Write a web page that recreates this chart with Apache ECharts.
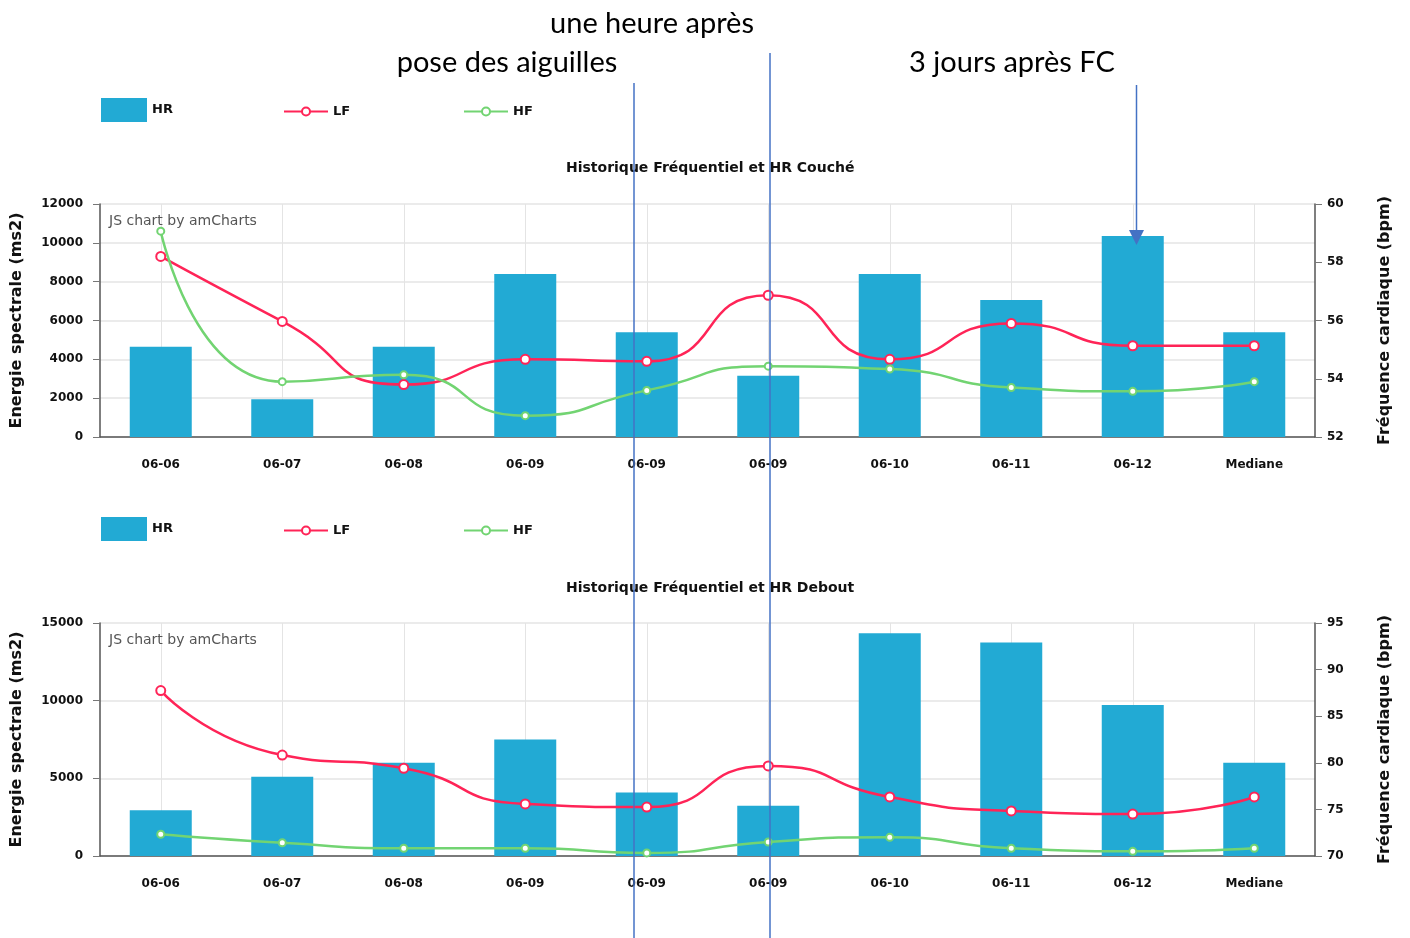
<!DOCTYPE html>
<html>
<head>
<meta charset="utf-8">
<script src="https://cdn.jsdelivr.net/npm/echarts@6/dist/echarts.min.js"></script>
<style>
html,body{margin:0;padding:0;background:#fff;}
#c{width:1410px;height:938px;}
</style>
</head>
<body>
<div id="c"></div>
<script>
// ---- data ----
const categories = ["06-06","06-07","06-08","06-09","06-09","06-09","06-10","06-11","06-12","Mediane"];
// Chart 1: Couché
const hrCouche = [55.1, 53.3, 55.1, 57.6, 55.6, 54.1, 57.6, 56.7, 58.9, 55.6];
const lfCouche = [9300, 5950, 2700, 4000, 3900, 7300, 4000, 5850, 4700, 4700];
const hfCouche = [10600, 2850, 3200, 1100, 2400, 3650, 3500, 2550, 2350, 2850];
// Chart 2: Debout
const hrDebout = [74.9, 78.5, 80.0, 82.5, 76.8, 75.4, 93.9, 92.9, 86.2, 80.0];
const lfDebout = [10650, 6500, 5650, 3350, 3150, 5800, 3800, 2900, 2700, 3800];
const hfDebout = [1400, 850, 500, 500, 200, 900, 1200, 500, 300, 500];
// axis ranges
const leftTicks1 = {min: 0, max: 12000, interval: 2000};
const rightTicks1 = {min: 52, max: 60, interval: 2};
const leftTicks2 = {min: 0, max: 15000, interval: 5000};
const rightTicks2 = {min: 70, max: 95, interval: 5};
const titles = ["Historique Fréquentiel et HR Couché", "Historique Fréquentiel et HR Debout"];

// ---- styles ----
const BAR = '#22aad4', LFC = '#ff2457', HFC = '#72d472';
const FONT = 'DejaVu Sans';
const ANN = '#4472c4';

function xAxis(gi){
  return {
    type: 'category', gridIndex: gi, data: categories,
    axisLine: {lineStyle: {color: '#555', width: 1.5}},
    axisTick: {alignWithLabel: true, length: 5, lineStyle: {color: '#777'}},
    axisLabel: {color: '#111', fontFamily: FONT, fontSize: 12, fontWeight: 'bold', margin: 22, interval: 0},
    splitLine: {show: true, alignWithLabel: true, lineStyle: {color: '#e4e4e4', width: 1}}
  };
}
function leftAxis(gi, t){
  return {
    type: 'value', gridIndex: gi, position: 'left', min: t.min, max: t.max, interval: t.interval,
    name: 'Energie spectrale (ms2)', nameLocation: 'middle', nameGap: 75,
    nameTextStyle: {fontFamily: FONT, fontSize: 16, fontWeight: 'bold', color: '#111'},
    axisLine: {show: true, lineStyle: {color: '#555', width: 1.5}},
    axisTick: {show: true, length: 7, lineStyle: {color: '#777'}},
    axisLabel: {color: '#111', fontFamily: FONT, fontSize: 12, fontWeight: 'bold', margin: 17,
      formatter: function(v){ return String(v); }},
    splitLine: {show: true, lineStyle: {color: '#e4e4e4', width: 1.5}}
  };
}
function rightAxis(gi, t){
  return {
    type: 'value', gridIndex: gi, position: 'right', min: t.min, max: t.max, interval: t.interval,
    name: 'Fréquence cardiaque (bpm)', nameLocation: 'middle', nameGap: 62, nameRotate: 90,
    nameTextStyle: {fontFamily: FONT, fontSize: 16, fontWeight: 'bold', color: '#111'},
    axisLine: {show: true, lineStyle: {color: '#555', width: 1.5}},
    axisTick: {show: true, length: 7, lineStyle: {color: '#777'}},
    axisLabel: {color: '#111', fontFamily: FONT, fontSize: 12, fontWeight: 'bold', margin: 12},
    splitLine: {show: false}
  };
}
function barSeries(gi, data){
  return {name: 'HR', type: 'bar', xAxisIndex: gi, yAxisIndex: gi*2+1, data: data,
    barWidth: 62, itemStyle: {color: BAR}, z: 2};
}
function lineSeries(name, gi, data, color, size){
  return {name: name, type: 'line', xAxisIndex: gi, yAxisIndex: gi*2, data: data,
    smooth: 0.6, symbol: 'circle', symbolSize: size, showSymbol: true,
    lineStyle: {color: color, width: 2.5}, itemStyle: {color: '#fff', borderColor: color, borderWidth: 2},
    z: 3};
}
function legends(top){
  const base = {top: top, padding: 0, itemGap: 0, textStyle: {fontFamily: FONT, fontSize: 13, fontWeight: 'bold', color: '#111'}, itemWidth: 44, itemHeight: 10, selectedMode: false};
  return [
    Object.assign({}, base, {left: 101, data: [{name: 'HR', icon: 'rect'}], itemWidth: 46, itemHeight: 24, textStyle: Object.assign({}, base.textStyle, {padding: [3, 0, 0, 0]})}),
    Object.assign({}, base, {left: 283, top: top + 7, data: ['LF']}),
    Object.assign({}, base, {left: 463, top: top + 7, data: ['HF']})
  ];
}

const chart = echarts.init(document.getElementById('c'), null, {renderer: 'canvas'});
const option = {
  animation: false,
  backgroundColor: '#fff',
  title: [
    {text: titles[0], left: 566, top: 161, padding: 0, textStyle: {fontFamily: FONT, fontSize: 14, fontWeight: 'bold', color: '#111'}},
    {text: titles[1], left: 566, top: 581, padding: 0, textStyle: {fontFamily: FONT, fontSize: 14, fontWeight: 'bold', color: '#111'}}
  ],
  legend: legends(98).concat(legends(517)),
  grid: [
    {left: 100, right: 95, top: 204, height: 233},
    {left: 100, right: 95, top: 623, height: 233}
  ],
  xAxis: [xAxis(0), xAxis(1)],
  yAxis: [leftAxis(0, leftTicks1), rightAxis(0, rightTicks1), leftAxis(1, leftTicks2), rightAxis(1, rightTicks2)],
  series: [
    barSeries(0, hrCouche),
    lineSeries('LF', 0, lfCouche, LFC, 9),
    lineSeries('HF', 0, hfCouche, HFC, 7),
    barSeries(1, hrDebout),
    lineSeries('LF', 1, lfDebout, LFC, 9),
    lineSeries('HF', 1, hfDebout, HFC, 7)
  ],
  graphic: [
    {type: 'text', left: 109, top: 214, style: {text: 'JS chart by amCharts', fill: '#555', font: '14px "DejaVu Sans"'}, z: 10},
    {type: 'text', left: 109, top: 633, style: {text: 'JS chart by amCharts', fill: '#555', font: '14px "DejaVu Sans"'}, z: 10},
    {type: 'text', x: 652, y: 24, style: {text: 'une heure après', fill: '#000', font: '29px Lato', align: 'center', verticalAlign: 'middle'}, z: 20},
    {type: 'text', x: 507, y: 63, style: {text: 'pose des aiguilles', fill: '#000', font: '29px Lato', align: 'center', verticalAlign: 'middle'}, z: 20},
    {type: 'text', x: 1012, y: 63, style: {text: '3 jours après FC', fill: '#000', font: '29px Lato', align: 'center', verticalAlign: 'middle'}, z: 20},
    {type: 'line', shape: {x1: 634, y1: 83, x2: 634, y2: 938}, style: {stroke: ANN, lineWidth: 1.5}, z: 30},
    {type: 'line', shape: {x1: 770, y1: 53, x2: 770, y2: 938}, style: {stroke: ANN, lineWidth: 1.5}, z: 30},
    {type: 'line', shape: {x1: 1136.5, y1: 85, x2: 1136.5, y2: 232}, style: {stroke: ANN, lineWidth: 1.5}, z: 30},
    {type: 'polygon', shape: {points: [[1129, 230], [1144, 230], [1136.5, 245]]}, style: {fill: ANN}, z: 30}
  ]
};
chart.setOption(option);
</script>
</body>
</html>
